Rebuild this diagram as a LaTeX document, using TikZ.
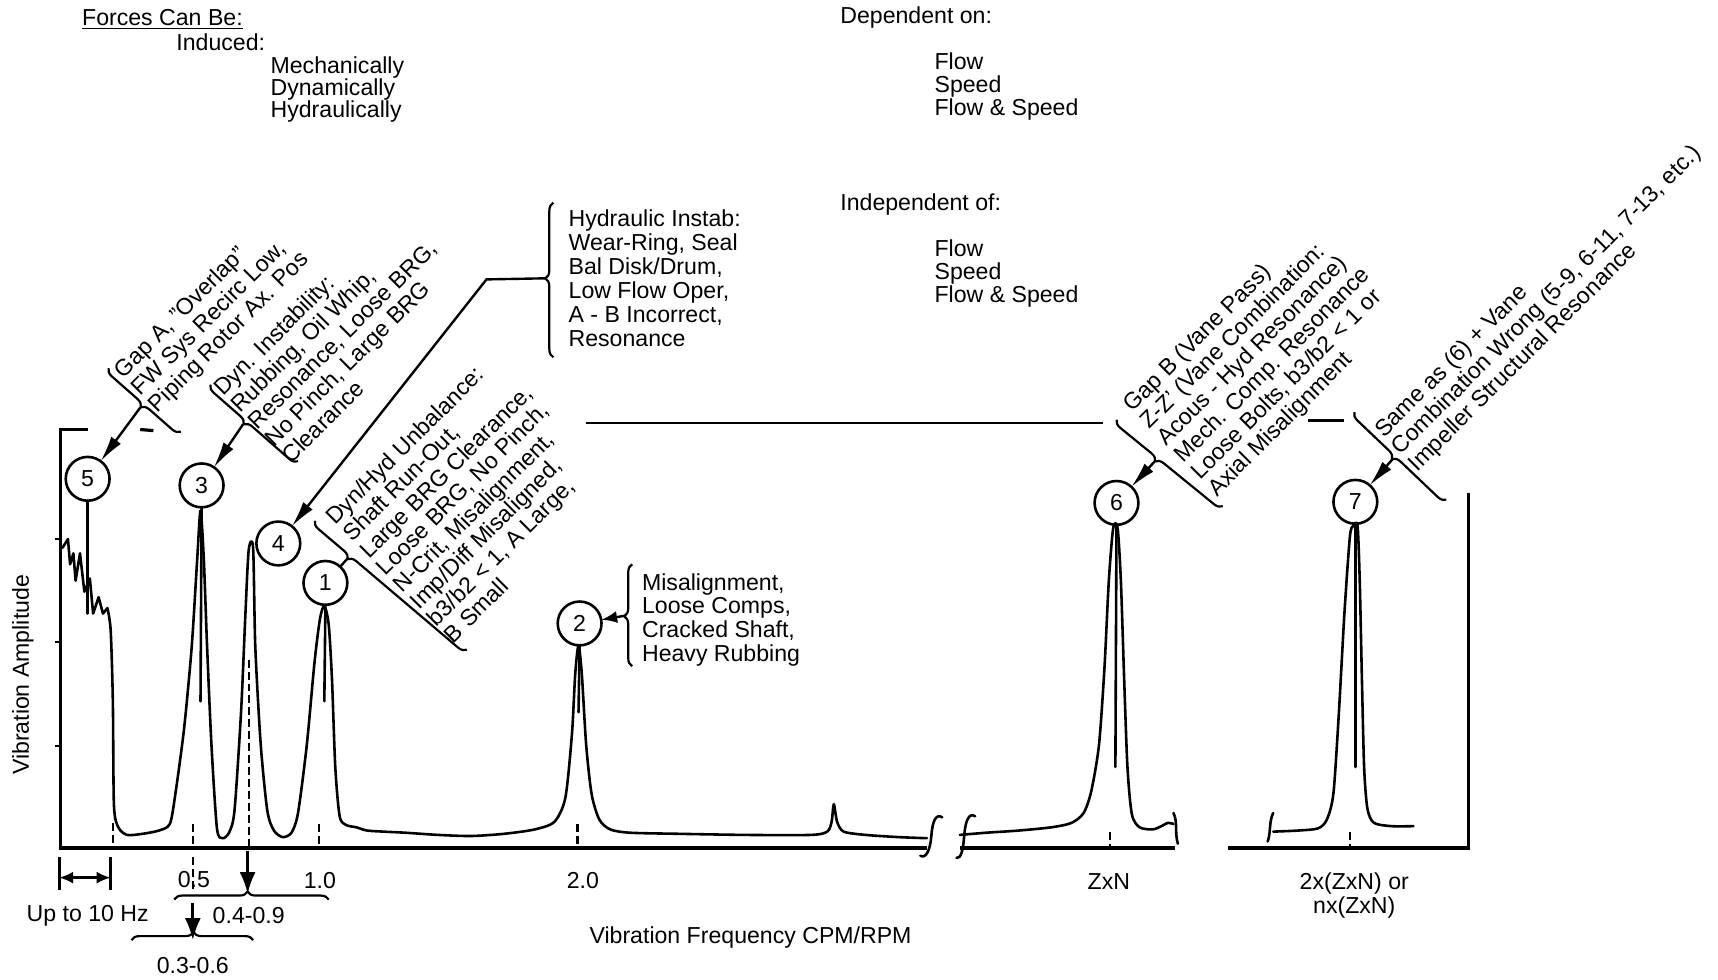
\documentclass[tikz,border=0pt]{standalone}
\usepackage{fontspec}
\setmainfont{Liberation Sans}
\usetikzlibrary{decorations.pathreplacing,arrows.meta}
\begin{document}
\begin{tikzpicture}[x=0.55pt,y=-0.55pt,
  every node/.style={font=\fontsize{11.6}{12}\selectfont, inner sep=0pt, outer sep=0pt},
  txt/.style={align=left, anchor=base west},
  rtxt/.style={align=left, anchor=base west, rotate=45},
  num/.style={circle, draw, line width=1.3pt, minimum size=22pt},
  crv/.style={line width=1.3pt, line join=round, line cap=round},
  axisline/.style={line width=1.6pt},
  brc/.style={decorate, line width=1.1pt},
  arr/.style={line width=1.2pt, -{Latex[length=13pt,width=6pt]}},
  sarr/.style={line width=1.2pt, -{Latex[length=8pt,width=6pt]}},
  dtick/.style={line width=1.2pt, dash pattern=on 4pt off 2pt},
]
\useasboundingbox (0,0) rectangle (1568,894);

% ---------- top texts (anchor = baseline of last line) ----------
\node[txt] (forces) at (75,23) {\underline{Forces Can Be:}};
\node[txt] (induced) at (161,46) {Induced:};
\node[txt, font=\fontsize{11.6}{11.1}\selectfont] (mech) at (247,107) {Mechanically\\Dynamically\\Hydraulically};
\node[txt] (dep) at (767,21) {Dependent on:};
\node[txt, font=\fontsize{11.6}{11.5}\selectfont] (depl) at (853,105) {Flow\\Speed\\Flow \& Speed};
\node[txt] (indep) at (767,192) {Independent of:};
\node[txt, font=\fontsize{11.6}{11.5}\selectfont] (indepl) at (853,276) {Flow\\Speed\\Flow \& Speed};

% ---------- axes ----------
\draw[axisline] (80,392) -- (55,392) -- (55,774) -- (846,774);
\foreach \yy in {492,586,681} \draw[line width=1pt] (50,\yy) -- (55,\yy);
\draw[axisline] (876,774) -- (1072,774);
\draw[axisline] (1121,774) -- (1340,774) -- (1340,450);
\node[rotate=90] (ylab) at (21,616) {Vibration Amplitude};

% break squiggles
\draw[crv] (860,746) .. controls (854,742) and (851,750) .. (850,763) .. controls (849,776) and (845,784) .. (840,781);
\draw[crv] (890,745) .. controls (884,741) and (881,750) .. (880,763) .. controls (879,776) and (877,784) .. (873,783);
\draw[crv] (1071,742) .. controls (1075,750) and (1072,760) .. (1075,770);
\draw[crv] (1162,742) .. controls (1158,750) and (1160,760) .. (1157,768);

% ---------- curves ----------
\draw[crv] (57,500) -- (62,492) -- (64,515) -- (67,505) -- (69,530) -- (73,505) -- (77,540) -- (82,528) -- (85,560) -- (90,545) -- (94,560) -- (98,555);
\draw[crv] plot[smooth, tension=0.45] coordinates {(98,555) (101,575) (103,640) (104,735) (108,755) (116,762) (130,761) (145,758) (155,752) (160,725) (168,665) (175,590) (180,510) (183,466) (186,510) (189,590) (193,680) (198,756) (203,765) (209,760) (214,740) (220,650) (224,560) (227,502) (231,500) (233,590) (238,680) (244,740) (250,758) (258,764) (266,760) (272,742) (280,680) (287,605) (292,565) (296,553) (300,570) (303,620) (306,700) (310,745) (316,753) (325,755) (335,758) (350,759) (370,760) (400,762) (430,763) (460,761) (488,757) (506,750) (516,728) (522,670) (525,615) (528,589) (531,615) (535,680) (540,725) (547,748) (557,757) (575,760) (620,761) (680,762) (740,762) (755,759) (759,750) (761,734) (764,750) (770,759) (790,762) (820,764) (846,765)};
\draw[crv] plot[smooth, tension=0.45] coordinates {(876,762) (900,760) (930,758) (960,755) (978,751) (989,742) (996,722) (1003,680) (1008,610) (1012,530) (1016,482) (1020,482) (1023,530) (1026,620) (1029,700) (1033,743) (1040,755) (1052,757) (1060,754) (1066,751) (1071,752)};
\draw[crv] plot[smooth, tension=0.45] coordinates {(1162,759) (1185,758) (1203,756) (1211,748) (1217,724) (1222,650) (1227,560) (1232,490) (1235,480) (1239,480) (1241,530) (1243,620) (1245,700) (1248,738) (1254,751) (1270,754) (1290,754)};

% ---------- circles ----------
\node[num] (c5) at (80,437) {5};
\node[num] (c3) at (184,443) {3};
\node[num] (c4) at (254,496) {4};
\node[num] (c1) at (297,532) {1};
\node[num] (c2) at (529,569) {2};
\node[num] (c6) at (1019,459) {6};
\node[num] (c7) at (1237,458) {7};

% inner peak lines
\draw[crv] (c5.south) -- (80,560);
\draw[crv] (c3.south) -- (183,640);
\draw[crv] (c1.south) -- (296,640);
\draw[crv] (c2.south) -- (528,650);
\draw[crv] (c6.south) -- (1018,700);
\draw[crv] (c7.south) -- (1237,700);

% dashed frequency ticks
\draw[dtick] (103,751) -- (103,774);
\draw[dtick] (176,752) -- (176,774);
\draw[dtick] (227,602) -- (227,774);
\draw[dtick] (291,752) -- (291,774);
\draw[dtick] (527,752) -- (527,774);
\draw[dtick] (1013,759) -- (1013,774);
\draw[dtick] (1232,759) -- (1232,774);

% ---------- group 5 ----------
\node[rtxt] (t5) at (144,377) {Gap A, "Overlap"\\FW Sys Recirc Low,\\Piping Rotor Ax. Pos};
\draw[brc, decoration={brace,amplitude=4pt,aspect=0.48}] (165,394) -- (99,336);
\coordinate (b5) at (128,372);
\draw[arr] (b5) -- (c5);
\draw[line width=1.6pt] (128,392) -- (140,393);

% ---------- group 3 ----------
\node[rtxt] (t3) at (266,424) {Dyn. Instability:\\Rubbing, Oil Whip,\\Resonance, Loose BRG,\\No Pinch, Large BRG\\Clearance};
\draw[brc, decoration={brace,amplitude=4pt,aspect=0.56}] (272,421) -- (192,351);
\coordinate (b3) at (222,387);
\draw[arr] (b3) -- (c3);

% ---------- group 1 ----------
\node[rtxt] (t1) at (414,588) {Dyn/Hyd Unbalance:\\Shaft Run-Out,\\Large BRG Clearance,\\Loose BRG, No Pinch,\\N-Crit, Misalignment,\\Imp/Diff Misaligned,\\b3/b2 < 1, A Large,\\B Small};
\draw[brc, decoration={brace,amplitude=4pt,aspect=0.75}] (426,593) -- (287,475);
\coordinate (b1) at (317,510);
\draw[line width=1.2pt] (b1) -- (c1);

% ---------- hydraulic instability ----------
\node[txt] (hyd) at (519,316) {Hydraulic Instab:\\Wear-Ring, Seal\\Bal Disk/Drum,\\Low Flow Oper,\\A - B Incorrect,\\Resonance};
\draw[brc, decoration={brace,amplitude=4pt,aspect=0.51}] (505,326) -- (505,185);
\coordinate (hT) at (498,254);
\coordinate (hK) at (444,255);
\draw[arr] (hT) -- (hK) -- (c4);

% long horizontal line
\coordinate (lA) at (535,386);
\coordinate (lB) at (1007,386);
\draw[line width=1.3pt] (lA) -- (lB);
\coordinate (sA) at (1194,384);
\coordinate (sB) at (1227,384);
\draw[line width=1.3pt] (sA) -- (sB);

% ---------- group 2 ----------
\node[txt] (t2) at (586,604) {Misalignment,\\Loose Comps,\\Cracked Shaft,\\Heavy Rubbing};
\draw[brc, decoration={brace,amplitude=4pt,aspect=0.49}] (577,608) -- (577,515);
\coordinate (b2) at (570,562);
\draw[sarr] (b2) -- (c2);

% ---------- group 6 ----------
\node[rtxt] (t6) at (1111,454) {Gap B (Vane Pass)\\Z-Z' (Vane Combination:\\Acous - Hyd Resonance)\\Mech. Comp. Resonance\\Loose Bolts, b3/b2 < 1 or\\Axial Misalignment};
\draw[brc, decoration={brace,amplitude=4pt,aspect=0.59}] (1116,462) -- (1019,383);
\coordinate (b6) at (1054,421);
\draw[arr] (b6) -- (c6);

% ---------- group 7 ----------
\node[rtxt] (t7) at (1294,431) {Same as (6) + Vane\\Combination Wrong (5-9, 6-11, 7-13, etc.)\\Impeller Structural Resonance};
\draw[brc, decoration={brace,amplitude=4pt,aspect=0.53}] (1320,456) -- (1236,376);
\coordinate (b7) at (1271,419);
\draw[arr] (b7) -- (c7);

% ---------- bottom annotations ----------
\coordinate (uL) at (54,782); \coordinate (uL2) at (54,812);
\coordinate (uR) at (101,782); \coordinate (uR2) at (101,812);
\draw[line width=1.4pt] (uL) -- (uL2);
\draw[line width=1.4pt] (uR) -- (uR2);
\coordinate (dL) at (54,801); \coordinate (dR) at (101,801);
\draw[line width=1.2pt, {Latex[length=7pt,width=6pt]}-{Latex[length=7pt,width=6pt]}] (dL) -- (dR);
\node (up10) at (80,836) {Up to 10 Hz};
\draw[dtick] (176,782) -- (176,812);
\node (l05) at (177,803) {0.5};
\node (l10) at (292,804) {1.0};
\node (l20) at (532,804) {2.0};
\coordinate (a1s) at (226,777); \coordinate (a1e) at (226,816);
\draw[line width=1.4pt, -{Latex[length=11pt,width=8pt]}] (a1s) -- (a1e);
\draw[brc, decoration={brace,amplitude=4pt,aspect=0.475}] (159,821) -- (300,821);
\node (l49) at (227,836) {0.4-0.9};
\coordinate (a2s) at (176,824); \coordinate (a2e) at (176,858);
\draw[line width=1.4pt, -{Latex[length=11pt,width=8pt]}] (a2s) -- (a2e);
\draw[brc, decoration={brace,amplitude=4pt,aspect=0.51}] (120,858) -- (231,858);
\node (l36) at (176,881) {0.3-0.6};
\node (xlab) at (685,856) {Vibration Frequency CPM/RPM};
\node (zxn) at (1012,805) {ZxN};
\node[align=center] (nzxn) at (1236,817) {2x(ZxN) or\\nx(ZxN)};
\end{tikzpicture}
\end{document}
